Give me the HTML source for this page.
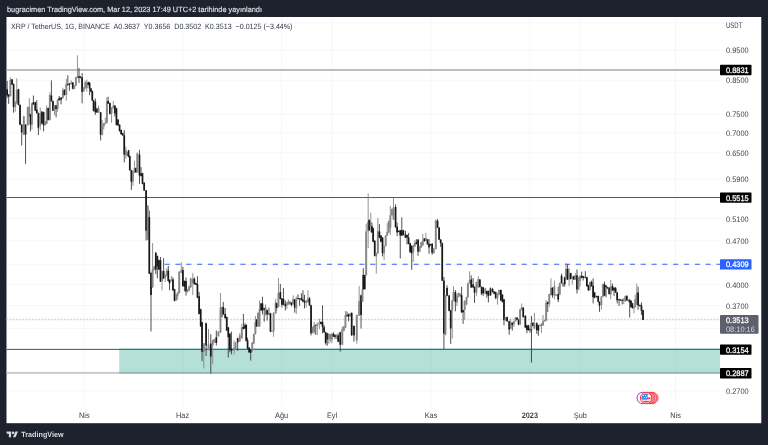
<!DOCTYPE html>
<html><head><meta charset="utf-8"><title>XRP / TetherUS</title>
<style>
html,body{margin:0;padding:0;background:#1e222d;}
body{width:768px;height:445px;overflow:hidden;}
svg{display:block;font-family:"Liberation Sans",sans-serif;text-rendering:geometricPrecision;}
.ax{font-size:8px;fill:#3a3e4a;}
.tag{font-size:8px;fill:#fff;stroke:#fff;stroke-width:0.28px;}
.tm{font-size:7.9px;fill:#3a3e4a;text-anchor:middle;}
</style></head><body>
<svg width="768" height="445" viewBox="0 0 768 445">
<rect x="0" y="0" width="768" height="445" fill="#1e222d"/>
<rect x="6.5" y="17" width="754.8" height="406.2" fill="#ffffff"/>

<g stroke="#f0f0f1" stroke-width="0.6" fill="none">
<line x1="6.5" y1="22.9" x2="720" y2="22.9"/>
<line x1="6.5" y1="50.0" x2="720" y2="50.0"/>
<line x1="6.5" y1="80.1" x2="720" y2="80.1"/>
<line x1="6.5" y1="114.1" x2="720" y2="114.1"/>
<line x1="6.5" y1="132.8" x2="720" y2="132.8"/>
<line x1="6.5" y1="152.8" x2="720" y2="152.8"/>
<line x1="6.5" y1="179.1" x2="720" y2="179.1"/>
<line x1="6.5" y1="198.1" x2="720" y2="198.1"/>
<line x1="6.5" y1="218.6" x2="720" y2="218.6"/>
<line x1="6.5" y1="240.7" x2="720" y2="240.7"/>
<line x1="6.5" y1="264.8" x2="720" y2="264.8"/>
<line x1="6.5" y1="284.4" x2="720" y2="284.4"/>
<line x1="6.5" y1="305.5" x2="720" y2="305.5"/>
<line x1="6.5" y1="328.5" x2="720" y2="328.5"/>
<line x1="6.5" y1="349.2" x2="720" y2="349.2"/>
<line x1="6.5" y1="371.6" x2="720" y2="371.6"/>
<line x1="6.5" y1="390.9" x2="720" y2="390.9"/>
<line x1="84.3" y1="17" x2="84.3" y2="406"/>
<line x1="182.6" y1="17" x2="182.6" y2="406"/>
<line x1="281.6" y1="17" x2="281.6" y2="406"/>
<line x1="332" y1="17" x2="332" y2="406"/>
<line x1="431" y1="17" x2="431" y2="406"/>
<line x1="529.8" y1="17" x2="529.8" y2="406"/>
<line x1="580.3" y1="17" x2="580.3" y2="406"/>
<line x1="675.5" y1="17" x2="675.5" y2="406"/>
</g>
<line x1="6.5" y1="70" x2="720" y2="70" stroke="#bdbdbd" stroke-width="2"/>
<line x1="6.5" y1="197.4" x2="720" y2="197.4" stroke="#5c5c5c" stroke-width="1.05"/>
<line x1="6.5" y1="349.4" x2="720" y2="349.4" stroke="#505050" stroke-width="1"/>
<line x1="6.5" y1="373.0" x2="720" y2="373.0" stroke="#bcbcbc" stroke-width="1.5"/>
<rect x="119.2" y="348.2" width="600.8" height="25.5" fill="rgba(8,153,129,0.3)"/>
<line x1="164.6" y1="264.2" x2="720" y2="264.2" stroke="#2962ff" stroke-width="1.1" stroke-dasharray="5.1 5.72"/>
<line x1="6.5" y1="319.6" x2="720" y2="319.6" stroke="#d6d7da" stroke-width="1.5" stroke-dasharray="1.9 1.3"/>
<g stroke-width="0.85"><line x1="7.12" y1="80.9" x2="7.12" y2="98.1" stroke="#303034"/><line x1="8.69" y1="94.0" x2="8.69" y2="103.9" stroke="#303034"/><line x1="10.35" y1="77.3" x2="10.35" y2="96.6" stroke="#808080"/><line x1="12.02" y1="78.9" x2="12.02" y2="85.1" stroke="#303034"/><line x1="13.58" y1="83.5" x2="13.58" y2="112.7" stroke="#303034"/><line x1="15.25" y1="101.2" x2="15.25" y2="111.7" stroke="#808080"/><line x1="16.81" y1="78.3" x2="16.81" y2="103.9" stroke="#808080"/><line x1="18.48" y1="88.8" x2="18.48" y2="105.4" stroke="#303034"/><line x1="20.04" y1="104.4" x2="20.04" y2="125.2" stroke="#303034"/><line x1="21.71" y1="124.2" x2="21.71" y2="145.5" stroke="#303034"/><line x1="23.79" y1="115.8" x2="23.79" y2="135.1" stroke="#808080"/><line x1="25.56" y1="124.2" x2="25.56" y2="163.8" stroke="#303034"/><line x1="27.75" y1="106.5" x2="27.75" y2="125.7" stroke="#808080"/><line x1="29.31" y1="98.1" x2="29.31" y2="116.9" stroke="#808080"/><line x1="30.46" y1="113.8" x2="30.46" y2="131.4" stroke="#303034"/><line x1="31.92" y1="102.8" x2="31.92" y2="129.3" stroke="#808080"/><line x1="33.38" y1="95.5" x2="33.38" y2="104.9" stroke="#303034"/><line x1="35.25" y1="101.8" x2="35.25" y2="111.1" stroke="#303034"/><line x1="36.81" y1="100.2" x2="36.81" y2="113.8" stroke="#303034"/><line x1="38.38" y1="112.7" x2="38.38" y2="135.0" stroke="#303034"/><line x1="40.25" y1="107.5" x2="40.25" y2="130.3" stroke="#808080"/><line x1="41.92" y1="111.1" x2="41.92" y2="124.2" stroke="#303034"/><line x1="43.58" y1="111.7" x2="43.58" y2="131.4" stroke="#303034"/><line x1="45.15" y1="121.0" x2="45.15" y2="125.7" stroke="#808080"/><line x1="46.71" y1="105.4" x2="46.71" y2="124.2" stroke="#808080"/><line x1="48.27" y1="107.5" x2="48.27" y2="120.5" stroke="#303034"/><line x1="49.83" y1="92.4" x2="49.83" y2="120.5" stroke="#808080"/><line x1="51.40" y1="80.4" x2="51.40" y2="101.8" stroke="#303034"/><line x1="52.96" y1="100.7" x2="52.96" y2="111.1" stroke="#303034"/><line x1="54.52" y1="104.9" x2="54.52" y2="115.2" stroke="#808080"/><line x1="56.08" y1="104.9" x2="56.08" y2="117.3" stroke="#303034"/><line x1="57.65" y1="99.2" x2="57.65" y2="111.7" stroke="#808080"/><line x1="59.21" y1="96.0" x2="59.21" y2="100.7" stroke="#303034"/><line x1="61.08" y1="97.1" x2="61.08" y2="104.4" stroke="#303034"/><line x1="62.85" y1="87.7" x2="62.85" y2="98.6" stroke="#808080"/><line x1="64.42" y1="89.3" x2="64.42" y2="95.5" stroke="#303034"/><line x1="66.29" y1="78.9" x2="66.29" y2="100.7" stroke="#808080"/><line x1="67.85" y1="75.2" x2="67.85" y2="85.6" stroke="#303034"/><line x1="69.42" y1="83.0" x2="69.42" y2="90.8" stroke="#303034"/><line x1="71.19" y1="80.4" x2="71.19" y2="84.6" stroke="#808080"/><line x1="72.75" y1="82.0" x2="72.75" y2="89.3" stroke="#303034"/><line x1="74.31" y1="85.1" x2="74.31" y2="89.3" stroke="#808080"/><line x1="75.88" y1="76.8" x2="75.88" y2="86.1" stroke="#808080"/><line x1="77.44" y1="55.3" x2="77.44" y2="78.3" stroke="#808080"/><line x1="79.00" y1="67.9" x2="79.00" y2="83.0" stroke="#303034"/><line x1="80.56" y1="76.2" x2="80.56" y2="78.3" stroke="#303034"/><line x1="82.12" y1="73.1" x2="82.12" y2="103.3" stroke="#303034"/><line x1="83.69" y1="87.2" x2="83.69" y2="91.9" stroke="#808080"/><line x1="85.21" y1="80.7" x2="85.21" y2="89.0" stroke="#808080"/><line x1="86.77" y1="79.6" x2="86.77" y2="91.6" stroke="#808080"/><line x1="88.33" y1="81.7" x2="88.33" y2="85.4" stroke="#303034"/><line x1="89.58" y1="82.2" x2="89.58" y2="95.2" stroke="#303034"/><line x1="90.94" y1="88.0" x2="90.94" y2="92.1" stroke="#303034"/><line x1="92.29" y1="90.6" x2="92.29" y2="101.0" stroke="#303034"/><line x1="93.54" y1="99.9" x2="93.54" y2="111.4" stroke="#303034"/><line x1="95.31" y1="98.4" x2="95.31" y2="114.9" stroke="#303034"/><line x1="96.98" y1="107.8" x2="96.98" y2="113.0" stroke="#303034"/><line x1="98.54" y1="105.6" x2="98.54" y2="113.0" stroke="#808080"/><line x1="100.62" y1="111.9" x2="100.62" y2="140.5" stroke="#303034"/><line x1="102.19" y1="120.1" x2="102.19" y2="135.4" stroke="#808080"/><line x1="103.75" y1="122.9" x2="103.75" y2="129.5" stroke="#808080"/><line x1="105.31" y1="117.5" x2="105.31" y2="124.4" stroke="#808080"/><line x1="106.88" y1="97.3" x2="106.88" y2="123.4" stroke="#808080"/><line x1="108.12" y1="96.8" x2="108.12" y2="104.1" stroke="#303034"/><line x1="109.90" y1="102.5" x2="109.90" y2="114.5" stroke="#303034"/><line x1="111.56" y1="107.2" x2="111.56" y2="122.8" stroke="#808080"/><line x1="113.33" y1="101.0" x2="113.33" y2="108.8" stroke="#808080"/><line x1="114.90" y1="105.1" x2="114.90" y2="116.5" stroke="#303034"/><line x1="116.46" y1="107.8" x2="116.46" y2="125.5" stroke="#303034"/><line x1="118.02" y1="119.2" x2="118.02" y2="126.0" stroke="#303034"/><line x1="119.58" y1="124.4" x2="119.58" y2="131.7" stroke="#303034"/><line x1="121.15" y1="129.6" x2="121.15" y2="134.8" stroke="#303034"/><line x1="122.71" y1="132.8" x2="122.71" y2="135.9" stroke="#303034"/><line x1="124.27" y1="130.1" x2="124.27" y2="162.4" stroke="#303034"/><line x1="125.83" y1="146.8" x2="125.83" y2="158.8" stroke="#808080"/><line x1="127.19" y1="152.0" x2="127.19" y2="156.1" stroke="#808080"/><line x1="128.54" y1="149.9" x2="128.54" y2="157.2" stroke="#303034"/><line x1="129.79" y1="155.6" x2="129.79" y2="170.7" stroke="#303034"/><line x1="131.35" y1="169.7" x2="131.35" y2="190.0" stroke="#303034"/><line x1="132.92" y1="170.7" x2="132.92" y2="185.8" stroke="#808080"/><line x1="134.48" y1="160.8" x2="134.48" y2="172.8" stroke="#808080"/><line x1="135.83" y1="167.6" x2="135.83" y2="172.8" stroke="#303034"/><line x1="137.29" y1="152.5" x2="137.29" y2="172.8" stroke="#808080"/><line x1="139.48" y1="149.9" x2="139.48" y2="183.8" stroke="#303034"/><line x1="141.04" y1="167.1" x2="141.04" y2="176.5" stroke="#303034"/><line x1="142.50" y1="172.8" x2="142.50" y2="184.3" stroke="#303034"/><line x1="144.17" y1="182.2" x2="144.17" y2="191.0" stroke="#303034"/><line x1="146.10" y1="190.0" x2="146.10" y2="240.5" stroke="#303034"/><line x1="147.70" y1="205.0" x2="147.70" y2="240.0" stroke="#808080"/><line x1="149.30" y1="210.6" x2="149.30" y2="274.0" stroke="#303034"/><line x1="151.00" y1="272.0" x2="151.00" y2="331.4" stroke="#303034"/><line x1="152.60" y1="243.0" x2="152.60" y2="288.0" stroke="#808080"/><line x1="154.23" y1="265.9" x2="154.23" y2="270.6" stroke="#808080"/><line x1="155.79" y1="251.8" x2="155.79" y2="274.2" stroke="#303034"/><line x1="157.35" y1="255.5" x2="157.35" y2="278.4" stroke="#303034"/><line x1="158.92" y1="259.6" x2="158.92" y2="270.1" stroke="#303034"/><line x1="160.48" y1="257.0" x2="160.48" y2="282.0" stroke="#303034"/><line x1="162.04" y1="270.6" x2="162.04" y2="290.4" stroke="#808080"/><line x1="163.60" y1="258.1" x2="163.60" y2="278.9" stroke="#303034"/><line x1="165.17" y1="274.2" x2="165.17" y2="282.0" stroke="#808080"/><line x1="166.73" y1="268.0" x2="166.73" y2="276.3" stroke="#808080"/><line x1="168.29" y1="265.9" x2="168.29" y2="281.5" stroke="#303034"/><line x1="169.54" y1="279.4" x2="169.54" y2="290.4" stroke="#303034"/><line x1="171.42" y1="275.8" x2="171.42" y2="281.5" stroke="#808080"/><line x1="172.98" y1="277.4" x2="172.98" y2="290.9" stroke="#303034"/><line x1="174.54" y1="288.8" x2="174.54" y2="301.3" stroke="#303034"/><line x1="176.10" y1="294.0" x2="176.10" y2="301.2" stroke="#808080"/><line x1="177.67" y1="291.9" x2="177.67" y2="299.8" stroke="#808080"/><line x1="179.23" y1="271.1" x2="179.23" y2="293.5" stroke="#808080"/><line x1="181.31" y1="262.2" x2="181.31" y2="273.2" stroke="#808080"/><line x1="182.88" y1="266.9" x2="182.88" y2="286.7" stroke="#303034"/><line x1="184.44" y1="280.5" x2="184.44" y2="291.4" stroke="#303034"/><line x1="186.00" y1="277.4" x2="186.00" y2="295.6" stroke="#303034"/><line x1="187.56" y1="288.8" x2="187.56" y2="292.5" stroke="#808080"/><line x1="189.12" y1="285.7" x2="189.12" y2="290.9" stroke="#808080"/><line x1="190.69" y1="277.9" x2="190.69" y2="287.8" stroke="#808080"/><line x1="192.77" y1="273.2" x2="192.77" y2="295.1" stroke="#808080"/><line x1="194.33" y1="277.4" x2="194.33" y2="284.6" stroke="#303034"/><line x1="195.90" y1="282.6" x2="195.90" y2="285.2" stroke="#303034"/><line x1="197.46" y1="276.3" x2="197.46" y2="298.2" stroke="#303034"/><line x1="199.12" y1="292.0" x2="199.12" y2="314.4" stroke="#303034"/><line x1="200.69" y1="308.7" x2="200.69" y2="326.9" stroke="#303034"/><line x1="202.04" y1="321.7" x2="202.04" y2="361.2" stroke="#303034"/><line x1="203.81" y1="343.0" x2="203.81" y2="368.5" stroke="#808080"/><line x1="206.10" y1="322.7" x2="206.10" y2="356.0" stroke="#303034"/><line x1="208.50" y1="329.0" x2="208.50" y2="350.3" stroke="#808080"/><line x1="210.79" y1="334.2" x2="210.79" y2="373.7" stroke="#303034"/><line x1="212.67" y1="339.9" x2="212.67" y2="364.3" stroke="#808080"/><line x1="214.23" y1="338.9" x2="214.23" y2="343.0" stroke="#808080"/><line x1="216.31" y1="330.5" x2="216.31" y2="345.5" stroke="#303034"/><line x1="218.40" y1="331.1" x2="218.40" y2="336.8" stroke="#808080"/><line x1="220.48" y1="293.0" x2="220.48" y2="333.1" stroke="#808080"/><line x1="222.04" y1="306.6" x2="222.04" y2="317.5" stroke="#808080"/><line x1="223.29" y1="301.9" x2="223.29" y2="314.9" stroke="#303034"/><line x1="225.17" y1="308.1" x2="225.17" y2="318.6" stroke="#303034"/><line x1="226.73" y1="316.5" x2="226.73" y2="331.1" stroke="#303034"/><line x1="228.29" y1="326.9" x2="228.29" y2="357.5" stroke="#303034"/><line x1="229.85" y1="333.1" x2="229.85" y2="352.3" stroke="#303034"/><line x1="231.42" y1="331.6" x2="231.42" y2="354.4" stroke="#303034"/><line x1="234.02" y1="340.3" x2="234.02" y2="354.4" stroke="#808080"/><line x1="235.58" y1="342.0" x2="235.58" y2="349.3" stroke="#808080"/><line x1="237.67" y1="337.8" x2="237.67" y2="350.8" stroke="#303034"/><line x1="239.75" y1="333.1" x2="239.75" y2="342.0" stroke="#808080"/><line x1="241.83" y1="323.8" x2="241.83" y2="338.9" stroke="#808080"/><line x1="243.40" y1="313.9" x2="243.40" y2="329.5" stroke="#303034"/><line x1="244.96" y1="323.2" x2="244.96" y2="329.0" stroke="#303034"/><line x1="246.21" y1="324.3" x2="246.21" y2="341.5" stroke="#303034"/><line x1="247.56" y1="337.7" x2="247.56" y2="349.3" stroke="#303034"/><line x1="249.12" y1="347.2" x2="249.12" y2="352.9" stroke="#303034"/><line x1="250.69" y1="349.3" x2="250.69" y2="360.6" stroke="#303034"/><line x1="252.25" y1="342.0" x2="252.25" y2="351.8" stroke="#808080"/><line x1="253.81" y1="333.7" x2="253.81" y2="344.1" stroke="#808080"/><line x1="255.38" y1="316.0" x2="255.38" y2="334.7" stroke="#808080"/><line x1="256.62" y1="319.1" x2="256.62" y2="326.9" stroke="#303034"/><line x1="257.98" y1="312.3" x2="257.98" y2="326.9" stroke="#808080"/><line x1="259.54" y1="300.3" x2="259.54" y2="326.9" stroke="#808080"/><line x1="261.10" y1="302.9" x2="261.10" y2="310.8" stroke="#303034"/><line x1="262.46" y1="296.7" x2="262.46" y2="314.4" stroke="#303034"/><line x1="264.23" y1="307.6" x2="264.23" y2="321.7" stroke="#303034"/><line x1="265.58" y1="304.5" x2="265.58" y2="315.4" stroke="#808080"/><line x1="267.15" y1="309.7" x2="267.15" y2="320.6" stroke="#303034"/><line x1="268.92" y1="307.6" x2="268.92" y2="314.9" stroke="#303034"/><line x1="270.48" y1="312.8" x2="270.48" y2="332.1" stroke="#303034"/><line x1="272.04" y1="330.5" x2="272.04" y2="332.1" stroke="#808080"/><line x1="273.60" y1="312.3" x2="273.60" y2="336.8" stroke="#808080"/><line x1="275.69" y1="298.8" x2="275.69" y2="313.9" stroke="#808080"/><line x1="276.69" y1="302.7" x2="276.69" y2="310.5" stroke="#303034"/><line x1="278.46" y1="278.0" x2="278.46" y2="307.4" stroke="#808080"/><line x1="280.33" y1="283.9" x2="280.33" y2="299.5" stroke="#303034"/><line x1="281.90" y1="298.0" x2="281.90" y2="307.4" stroke="#303034"/><line x1="283.46" y1="288.1" x2="283.46" y2="305.3" stroke="#303034"/><line x1="285.33" y1="300.6" x2="285.33" y2="310.5" stroke="#303034"/><line x1="286.90" y1="302.1" x2="286.90" y2="308.9" stroke="#808080"/><line x1="288.46" y1="299.5" x2="288.46" y2="304.8" stroke="#808080"/><line x1="289.92" y1="301.1" x2="289.92" y2="304.8" stroke="#808080"/><line x1="291.48" y1="302.1" x2="291.48" y2="306.3" stroke="#303034"/><line x1="293.15" y1="295.4" x2="293.15" y2="304.8" stroke="#808080"/><line x1="294.71" y1="299.0" x2="294.71" y2="312.6" stroke="#303034"/><line x1="296.27" y1="296.4" x2="296.27" y2="314.1" stroke="#808080"/><line x1="298.04" y1="294.3" x2="298.04" y2="299.5" stroke="#303034"/><line x1="299.60" y1="298.0" x2="299.60" y2="305.8" stroke="#303034"/><line x1="301.38" y1="293.3" x2="301.38" y2="300.6" stroke="#303034"/><line x1="302.94" y1="290.2" x2="302.94" y2="302.1" stroke="#303034"/><line x1="304.50" y1="294.9" x2="304.50" y2="308.4" stroke="#303034"/><line x1="306.17" y1="300.1" x2="306.17" y2="307.4" stroke="#808080"/><line x1="307.94" y1="290.2" x2="307.94" y2="302.7" stroke="#808080"/><line x1="309.50" y1="296.9" x2="309.50" y2="305.8" stroke="#303034"/><line x1="311.06" y1="304.8" x2="311.06" y2="335.4" stroke="#303034"/><line x1="312.62" y1="326.6" x2="312.62" y2="333.4" stroke="#808080"/><line x1="314.19" y1="321.9" x2="314.19" y2="333.8" stroke="#808080"/><line x1="315.75" y1="324.5" x2="315.75" y2="334.9" stroke="#303034"/><line x1="317.31" y1="322.5" x2="317.31" y2="334.9" stroke="#808080"/><line x1="319.40" y1="318.8" x2="319.40" y2="329.2" stroke="#808080"/><line x1="320.96" y1="321.4" x2="320.96" y2="324.5" stroke="#303034"/><line x1="322.52" y1="305.3" x2="322.52" y2="333.3" stroke="#303034"/><line x1="324.08" y1="325.1" x2="324.08" y2="332.9" stroke="#303034"/><line x1="325.65" y1="331.8" x2="325.65" y2="344.8" stroke="#303034"/><line x1="327.21" y1="332.9" x2="327.21" y2="345.8" stroke="#303034"/><line x1="328.77" y1="333.4" x2="328.77" y2="343.7" stroke="#808080"/><line x1="330.33" y1="333.9" x2="330.33" y2="342.1" stroke="#808080"/><line x1="331.90" y1="333.4" x2="331.90" y2="343.2" stroke="#808080"/><line x1="333.46" y1="332.2" x2="333.46" y2="337.0" stroke="#303034"/><line x1="335.02" y1="334.4" x2="335.02" y2="339.0" stroke="#303034"/><line x1="336.58" y1="334.4" x2="336.58" y2="339.0" stroke="#808080"/><line x1="338.15" y1="333.3" x2="338.15" y2="342.2" stroke="#303034"/><line x1="340.23" y1="331.8" x2="340.23" y2="351.5" stroke="#303034"/><line x1="342.31" y1="326.6" x2="342.31" y2="345.4" stroke="#808080"/><line x1="343.88" y1="326.1" x2="343.88" y2="331.3" stroke="#808080"/><line x1="345.44" y1="311.0" x2="345.44" y2="328.2" stroke="#808080"/><line x1="347.00" y1="311.5" x2="347.00" y2="316.7" stroke="#303034"/><line x1="348.56" y1="313.6" x2="348.56" y2="321.4" stroke="#303034"/><line x1="350.12" y1="313.1" x2="350.12" y2="316.7" stroke="#808080"/><line x1="351.67" y1="312.4" x2="351.67" y2="335.9" stroke="#303034"/><line x1="353.96" y1="325.4" x2="353.96" y2="341.6" stroke="#303034"/><line x1="356.77" y1="314.5" x2="356.77" y2="343.7" stroke="#808080"/><line x1="359.17" y1="286.0" x2="359.17" y2="316.1" stroke="#808080"/><line x1="361.04" y1="294.7" x2="361.04" y2="328.6" stroke="#303034"/><line x1="362.50" y1="288.5" x2="362.50" y2="302.0" stroke="#808080"/><line x1="363.27" y1="268.2" x2="363.27" y2="289.7" stroke="#303034"/><line x1="364.73" y1="274.6" x2="364.73" y2="289.7" stroke="#303034"/><line x1="366.19" y1="223.7" x2="366.19" y2="275.6" stroke="#808080"/><line x1="368.17" y1="193.5" x2="368.17" y2="248.0" stroke="#808080"/><line x1="369.21" y1="219.4" x2="369.21" y2="230.9" stroke="#303034"/><line x1="370.77" y1="212.7" x2="370.77" y2="232.4" stroke="#808080"/><line x1="371.92" y1="223.0" x2="371.92" y2="232.9" stroke="#303034"/><line x1="373.17" y1="227.7" x2="373.17" y2="242.3" stroke="#303034"/><line x1="374.73" y1="240.2" x2="374.73" y2="256.4" stroke="#303034"/><line x1="376.29" y1="252.7" x2="376.29" y2="273.5" stroke="#808080"/><line x1="377.85" y1="217.9" x2="377.85" y2="253.8" stroke="#808080"/><line x1="379.42" y1="224.1" x2="379.42" y2="238.1" stroke="#303034"/><line x1="380.98" y1="235.0" x2="380.98" y2="242.3" stroke="#303034"/><line x1="382.54" y1="237.1" x2="382.54" y2="256.4" stroke="#303034"/><line x1="384.10" y1="245.4" x2="384.10" y2="260.0" stroke="#808080"/><line x1="385.67" y1="235.0" x2="385.67" y2="246.5" stroke="#808080"/><line x1="387.23" y1="223.1" x2="387.23" y2="236.1" stroke="#808080"/><line x1="388.79" y1="220.4" x2="388.79" y2="232.9" stroke="#808080"/><line x1="390.35" y1="206.0" x2="390.35" y2="235.0" stroke="#808080"/><line x1="391.92" y1="208.5" x2="391.92" y2="215.8" stroke="#808080"/><line x1="393.48" y1="198.1" x2="393.48" y2="219.9" stroke="#808080"/><line x1="395.56" y1="204.4" x2="395.56" y2="227.7" stroke="#303034"/><line x1="397.12" y1="222.6" x2="397.12" y2="236.1" stroke="#303034"/><line x1="398.69" y1="230.3" x2="398.69" y2="232.4" stroke="#303034"/><line x1="400.25" y1="229.8" x2="400.25" y2="258.5" stroke="#303034"/><line x1="401.81" y1="217.4" x2="401.81" y2="236.1" stroke="#303034"/><line x1="403.38" y1="229.8" x2="403.38" y2="235.5" stroke="#303034"/><line x1="405.46" y1="230.9" x2="405.46" y2="238.1" stroke="#303034"/><line x1="407.02" y1="234.5" x2="407.02" y2="244.4" stroke="#303034"/><line x1="408.58" y1="232.9" x2="408.58" y2="244.4" stroke="#303034"/><line x1="410.15" y1="242.8" x2="410.15" y2="252.7" stroke="#303034"/><line x1="411.71" y1="245.4" x2="411.71" y2="269.8" stroke="#303034"/><line x1="413.27" y1="244.9" x2="413.27" y2="262.1" stroke="#808080"/><line x1="414.83" y1="240.2" x2="414.83" y2="247.0" stroke="#808080"/><line x1="416.40" y1="239.2" x2="416.40" y2="244.4" stroke="#303034"/><line x1="418.08" y1="239.1" x2="418.08" y2="255.8" stroke="#303034"/><line x1="419.65" y1="245.9" x2="419.65" y2="252.1" stroke="#808080"/><line x1="421.21" y1="241.7" x2="421.21" y2="247.9" stroke="#808080"/><line x1="422.77" y1="233.9" x2="422.77" y2="245.9" stroke="#808080"/><line x1="424.33" y1="238.0" x2="424.33" y2="241.7" stroke="#303034"/><line x1="425.90" y1="232.8" x2="425.90" y2="241.2" stroke="#808080"/><line x1="427.46" y1="239.1" x2="427.46" y2="244.8" stroke="#303034"/><line x1="429.02" y1="239.1" x2="429.02" y2="253.7" stroke="#303034"/><line x1="430.58" y1="243.8" x2="430.58" y2="245.9" stroke="#303034"/><line x1="432.15" y1="243.2" x2="432.15" y2="254.7" stroke="#303034"/><line x1="433.71" y1="247.9" x2="433.71" y2="253.7" stroke="#808080"/><line x1="435.79" y1="219.8" x2="435.79" y2="249.5" stroke="#808080"/><line x1="437.56" y1="218.8" x2="437.56" y2="228.1" stroke="#303034"/><line x1="439.12" y1="227.1" x2="439.12" y2="240.1" stroke="#303034"/><line x1="440.69" y1="239.1" x2="440.69" y2="246.9" stroke="#303034"/><line x1="442.25" y1="242.7" x2="442.25" y2="281.2" stroke="#303034"/><line x1="443.92" y1="277.0" x2="443.92" y2="348.9" stroke="#303034"/><line x1="445.48" y1="295.2" x2="445.48" y2="335.3" stroke="#808080"/><line x1="447.04" y1="285.3" x2="447.04" y2="296.3" stroke="#303034"/><line x1="449.12" y1="294.7" x2="449.12" y2="311.4" stroke="#303034"/><line x1="450.69" y1="309.8" x2="450.69" y2="343.9" stroke="#303034"/><line x1="452.25" y1="299.9" x2="452.25" y2="338.5" stroke="#808080"/><line x1="453.50" y1="286.4" x2="453.50" y2="301.0" stroke="#808080"/><line x1="455.38" y1="290.0" x2="455.38" y2="311.3" stroke="#303034"/><line x1="456.94" y1="293.7" x2="456.94" y2="306.1" stroke="#808080"/><line x1="458.50" y1="292.6" x2="458.50" y2="297.3" stroke="#808080"/><line x1="460.06" y1="293.1" x2="460.06" y2="296.8" stroke="#808080"/><line x1="461.62" y1="286.9" x2="461.62" y2="312.9" stroke="#303034"/><line x1="463.08" y1="309.8" x2="463.08" y2="323.8" stroke="#303034"/><line x1="464.65" y1="300.4" x2="464.65" y2="319.6" stroke="#808080"/><line x1="466.52" y1="296.8" x2="466.52" y2="305.1" stroke="#808080"/><line x1="467.88" y1="282.7" x2="467.88" y2="297.8" stroke="#808080"/><line x1="469.65" y1="271.3" x2="469.65" y2="283.8" stroke="#808080"/><line x1="471.21" y1="275.4" x2="471.21" y2="287.9" stroke="#303034"/><line x1="473.08" y1="278.0" x2="473.08" y2="287.9" stroke="#303034"/><line x1="474.54" y1="286.4" x2="474.54" y2="302.9" stroke="#303034"/><line x1="476.42" y1="281.7" x2="476.42" y2="295.8" stroke="#808080"/><line x1="478.29" y1="276.5" x2="478.29" y2="287.9" stroke="#808080"/><line x1="479.85" y1="279.1" x2="479.85" y2="287.4" stroke="#303034"/><line x1="481.62" y1="286.4" x2="481.62" y2="295.1" stroke="#303034"/><line x1="483.19" y1="286.9" x2="483.19" y2="295.8" stroke="#303034"/><line x1="485.27" y1="287.9" x2="485.27" y2="294.2" stroke="#808080"/><line x1="486.83" y1="290.5" x2="486.83" y2="297.7" stroke="#303034"/><line x1="488.40" y1="290.5" x2="488.40" y2="302.4" stroke="#303034"/><line x1="490.48" y1="287.4" x2="490.48" y2="295.8" stroke="#303034"/><line x1="492.56" y1="287.9" x2="492.56" y2="292.6" stroke="#303034"/><line x1="494.12" y1="291.1" x2="494.12" y2="294.2" stroke="#303034"/><line x1="495.69" y1="291.6" x2="495.69" y2="299.3" stroke="#303034"/><line x1="497.42" y1="293.1" x2="497.42" y2="304.6" stroke="#808080"/><line x1="499.08" y1="289.5" x2="499.08" y2="295.2" stroke="#808080"/><line x1="500.85" y1="289.5" x2="500.85" y2="300.9" stroke="#303034"/><line x1="502.42" y1="294.2" x2="502.42" y2="302.5" stroke="#303034"/><line x1="503.98" y1="298.9" x2="503.98" y2="325.4" stroke="#303034"/><line x1="505.54" y1="317.1" x2="505.54" y2="320.7" stroke="#808080"/><line x1="507.10" y1="316.6" x2="507.10" y2="321.8" stroke="#303034"/><line x1="509.19" y1="320.7" x2="509.19" y2="334.8" stroke="#303034"/><line x1="510.75" y1="318.6" x2="510.75" y2="329.1" stroke="#808080"/><line x1="512.31" y1="322.3" x2="512.31" y2="330.6" stroke="#303034"/><line x1="513.88" y1="320.7" x2="513.88" y2="327.0" stroke="#808080"/><line x1="515.44" y1="317.1" x2="515.44" y2="321.8" stroke="#808080"/><line x1="517.00" y1="317.1" x2="517.00" y2="320.2" stroke="#303034"/><line x1="518.56" y1="319.2" x2="518.56" y2="325.4" stroke="#303034"/><line x1="520.12" y1="308.8" x2="520.12" y2="324.9" stroke="#808080"/><line x1="521.69" y1="303.5" x2="521.69" y2="310.3" stroke="#808080"/><line x1="523.25" y1="307.2" x2="523.25" y2="317.6" stroke="#303034"/><line x1="525.33" y1="315.0" x2="525.33" y2="328.0" stroke="#303034"/><line x1="526.90" y1="324.9" x2="526.90" y2="333.2" stroke="#303034"/><line x1="528.46" y1="324.9" x2="528.46" y2="330.6" stroke="#303034"/><line x1="530.02" y1="328.5" x2="530.02" y2="332.7" stroke="#303034"/><line x1="531.27" y1="322.8" x2="531.27" y2="330.6" stroke="#808080"/><line x1="531.48" y1="316.0" x2="531.48" y2="362.5" stroke="#303034"/><line x1="532.94" y1="322.3" x2="532.94" y2="326.5" stroke="#303034"/><line x1="534.40" y1="312.9" x2="534.40" y2="329.1" stroke="#808080"/><line x1="536.79" y1="322.3" x2="536.79" y2="333.8" stroke="#303034"/><line x1="538.35" y1="324.9" x2="538.35" y2="335.8" stroke="#303034"/><line x1="539.92" y1="324.4" x2="539.92" y2="326.5" stroke="#808080"/><line x1="541.48" y1="323.3" x2="541.48" y2="332.7" stroke="#808080"/><line x1="543.04" y1="315.0" x2="543.04" y2="325.9" stroke="#808080"/><line x1="544.60" y1="319.7" x2="544.60" y2="321.8" stroke="#808080"/><line x1="546.17" y1="299.9" x2="546.17" y2="321.2" stroke="#808080"/><line x1="547.73" y1="301.5" x2="547.73" y2="311.9" stroke="#303034"/><line x1="549.29" y1="293.6" x2="549.29" y2="306.7" stroke="#808080"/><line x1="550.94" y1="278.4" x2="550.94" y2="295.6" stroke="#808080"/><line x1="552.50" y1="287.2" x2="552.50" y2="297.7" stroke="#303034"/><line x1="554.38" y1="280.5" x2="554.38" y2="299.2" stroke="#808080"/><line x1="556.15" y1="294.0" x2="556.15" y2="296.1" stroke="#808080"/><line x1="558.23" y1="286.7" x2="558.23" y2="302.0" stroke="#303034"/><line x1="559.79" y1="282.6" x2="559.79" y2="295.1" stroke="#808080"/><line x1="561.56" y1="273.7" x2="561.56" y2="283.6" stroke="#303034"/><line x1="563.12" y1="282.6" x2="563.12" y2="286.7" stroke="#808080"/><line x1="564.69" y1="276.8" x2="564.69" y2="286.7" stroke="#303034"/><line x1="566.04" y1="263.3" x2="566.04" y2="280.0" stroke="#808080"/><line x1="567.60" y1="264.3" x2="567.60" y2="280.0" stroke="#303034"/><line x1="569.17" y1="268.0" x2="569.17" y2="286.2" stroke="#808080"/><line x1="570.73" y1="272.7" x2="570.73" y2="279.4" stroke="#303034"/><line x1="572.29" y1="275.8" x2="572.29" y2="284.6" stroke="#808080"/><line x1="573.85" y1="275.8" x2="573.85" y2="280.0" stroke="#303034"/><line x1="575.42" y1="273.2" x2="575.42" y2="280.0" stroke="#808080"/><line x1="576.98" y1="269.5" x2="576.98" y2="293.5" stroke="#303034"/><line x1="578.54" y1="276.8" x2="578.54" y2="289.9" stroke="#808080"/><line x1="580.10" y1="275.3" x2="580.10" y2="286.2" stroke="#808080"/><line x1="581.67" y1="271.6" x2="581.67" y2="278.4" stroke="#303034"/><line x1="583.23" y1="275.8" x2="583.23" y2="280.5" stroke="#303034"/><line x1="585.31" y1="271.1" x2="585.31" y2="278.4" stroke="#303034"/><line x1="586.88" y1="276.8" x2="586.88" y2="286.7" stroke="#303034"/><line x1="588.44" y1="284.6" x2="588.44" y2="290.9" stroke="#303034"/><line x1="590.00" y1="281.5" x2="590.00" y2="290.4" stroke="#808080"/><line x1="591.56" y1="280.5" x2="591.56" y2="286.7" stroke="#303034"/><line x1="593.12" y1="278.4" x2="593.12" y2="303.4" stroke="#303034"/><line x1="594.58" y1="292.0" x2="594.58" y2="298.2" stroke="#303034"/><line x1="596.67" y1="295.6" x2="596.67" y2="297.7" stroke="#303034"/><line x1="598.23" y1="295.6" x2="598.23" y2="302.4" stroke="#303034"/><line x1="599.48" y1="301.4" x2="599.48" y2="311.8" stroke="#303034"/><line x1="601.35" y1="296.1" x2="601.35" y2="309.7" stroke="#808080"/><line x1="602.92" y1="283.6" x2="602.92" y2="297.2" stroke="#808080"/><line x1="604.48" y1="281.6" x2="604.48" y2="296.1" stroke="#303034"/><line x1="606.04" y1="285.2" x2="606.04" y2="297.2" stroke="#303034"/><line x1="607.60" y1="286.8" x2="607.60" y2="288.9" stroke="#303034"/><line x1="609.17" y1="287.3" x2="609.17" y2="294.6" stroke="#303034"/><line x1="610.73" y1="280.0" x2="610.73" y2="299.3" stroke="#808080"/><line x1="612.50" y1="283.6" x2="612.50" y2="290.9" stroke="#303034"/><line x1="614.06" y1="287.3" x2="614.06" y2="296.1" stroke="#303034"/><line x1="615.62" y1="286.8" x2="615.62" y2="293.0" stroke="#303034"/><line x1="617.19" y1="292.0" x2="617.19" y2="303.4" stroke="#303034"/><line x1="619.06" y1="298.8" x2="619.06" y2="306.0" stroke="#303034"/><line x1="620.62" y1="298.8" x2="620.62" y2="300.8" stroke="#303034"/><line x1="622.19" y1="299.3" x2="622.19" y2="304.5" stroke="#303034"/><line x1="623.75" y1="298.2" x2="623.75" y2="304.0" stroke="#808080"/><line x1="625.31" y1="295.6" x2="625.31" y2="301.9" stroke="#808080"/><line x1="626.88" y1="295.1" x2="626.88" y2="300.8" stroke="#303034"/><line x1="628.44" y1="299.8" x2="628.44" y2="301.4" stroke="#303034"/><line x1="629.69" y1="298.8" x2="629.69" y2="317.5" stroke="#303034"/><line x1="631.04" y1="300.3" x2="631.04" y2="307.6" stroke="#303034"/><line x1="632.40" y1="302.9" x2="632.40" y2="308.6" stroke="#303034"/><line x1="633.96" y1="306.0" x2="633.96" y2="313.3" stroke="#808080"/><line x1="635.21" y1="295.1" x2="635.21" y2="307.6" stroke="#808080"/><line x1="636.77" y1="283.6" x2="636.77" y2="305.0" stroke="#808080"/><line x1="638.12" y1="286.8" x2="638.12" y2="309.7" stroke="#303034"/><line x1="639.90" y1="304.5" x2="639.90" y2="306.6" stroke="#303034"/><line x1="641.46" y1="302.4" x2="641.46" y2="314.9" stroke="#303034"/><line x1="643.02" y1="309.7" x2="643.02" y2="320.1" stroke="#303034"/></g>
<g><rect x="6.28" y="89.3" width="1.7" height="6.2" fill="#18181b"/><rect x="7.84" y="94.5" width="1.7" height="2.1" fill="#18181b"/><rect x="9.40" y="79.9" width="1.9" height="16.1" fill="#868686"/><rect x="11.17" y="79.4" width="1.7" height="5.2" fill="#18181b"/><rect x="12.73" y="84.1" width="1.7" height="22.9" fill="#18181b"/><rect x="14.30" y="102.3" width="1.9" height="4.7" fill="#868686"/><rect x="15.86" y="89.8" width="1.9" height="13.5" fill="#868686"/><rect x="17.63" y="89.3" width="1.7" height="15.6" fill="#18181b"/><rect x="19.19" y="104.9" width="1.7" height="19.8" fill="#18181b"/><rect x="20.86" y="124.7" width="1.7" height="7.8" fill="#18181b"/><rect x="22.84" y="116.4" width="1.9" height="18.2" fill="#868686"/><rect x="24.71" y="124.7" width="1.7" height="9.9" fill="#18181b"/><rect x="26.80" y="107.0" width="1.9" height="18.2" fill="#868686"/><rect x="28.36" y="107.0" width="1.9" height="9.3" fill="#868686"/><rect x="29.61" y="114.2" width="1.7" height="10.4" fill="#18181b"/><rect x="30.97" y="103.3" width="1.9" height="21.2" fill="#868686"/><rect x="32.52" y="102.3" width="1.7" height="2.1" fill="#18181b"/><rect x="34.40" y="102.3" width="1.7" height="8.3" fill="#18181b"/><rect x="35.96" y="109.6" width="1.7" height="3.5" fill="#18181b"/><rect x="37.52" y="113.1" width="1.7" height="14.6" fill="#18181b"/><rect x="39.30" y="113.1" width="1.9" height="12.5" fill="#868686"/><rect x="41.07" y="111.7" width="1.7" height="11.9" fill="#18181b"/><rect x="42.73" y="112.1" width="1.7" height="13.0" fill="#18181b"/><rect x="44.20" y="121.5" width="1.9" height="3.6" fill="#868686"/><rect x="45.76" y="108.0" width="1.9" height="15.6" fill="#868686"/><rect x="47.42" y="108.0" width="1.7" height="12.0" fill="#18181b"/><rect x="48.88" y="95.0" width="1.9" height="25.0" fill="#868686"/><rect x="50.55" y="95.5" width="1.7" height="5.7" fill="#18181b"/><rect x="52.11" y="101.2" width="1.7" height="9.4" fill="#18181b"/><rect x="53.57" y="105.4" width="1.9" height="5.2" fill="#868686"/><rect x="55.23" y="105.4" width="1.7" height="3.6" fill="#18181b"/><rect x="56.70" y="99.7" width="1.9" height="8.9" fill="#868686"/><rect x="58.36" y="98.1" width="1.7" height="2.1" fill="#18181b"/><rect x="60.23" y="97.6" width="1.7" height="2.1" fill="#18181b"/><rect x="61.90" y="90.3" width="1.9" height="7.8" fill="#868686"/><rect x="63.57" y="89.8" width="1.7" height="5.2" fill="#18181b"/><rect x="65.34" y="84.1" width="1.9" height="10.9" fill="#868686"/><rect x="67.00" y="84.1" width="1.7" height="1.0" fill="#18181b"/><rect x="68.57" y="83.5" width="1.7" height="1.0" fill="#18181b"/><rect x="70.24" y="82.5" width="1.9" height="1.6" fill="#868686"/><rect x="71.90" y="82.5" width="1.7" height="6.2" fill="#18181b"/><rect x="73.36" y="85.6" width="1.9" height="3.1" fill="#868686"/><rect x="74.92" y="77.3" width="1.9" height="8.3" fill="#868686"/><rect x="76.49" y="76.2" width="1.9" height="1.6" fill="#868686"/><rect x="78.15" y="76.2" width="1.7" height="1.6" fill="#18181b"/><rect x="79.71" y="76.8" width="1.7" height="1.0" fill="#18181b"/><rect x="81.28" y="77.3" width="1.7" height="14.6" fill="#18181b"/><rect x="82.74" y="87.7" width="1.9" height="3.6" fill="#868686"/><rect x="84.26" y="82.2" width="1.9" height="6.2" fill="#868686"/><rect x="85.82" y="82.8" width="1.9" height="5.2" fill="#868686"/><rect x="87.48" y="82.2" width="1.7" height="2.6" fill="#18181b"/><rect x="88.73" y="82.8" width="1.7" height="5.7" fill="#18181b"/><rect x="90.09" y="88.5" width="1.7" height="3.1" fill="#18181b"/><rect x="91.44" y="91.1" width="1.7" height="9.4" fill="#18181b"/><rect x="92.69" y="100.5" width="1.7" height="10.3" fill="#18181b"/><rect x="94.46" y="101.5" width="1.7" height="10.8" fill="#18181b"/><rect x="96.13" y="108.7" width="1.7" height="3.6" fill="#18181b"/><rect x="97.59" y="108.2" width="1.9" height="4.2" fill="#868686"/><rect x="99.78" y="112.3" width="1.7" height="22.4" fill="#18181b"/><rect x="101.24" y="125.9" width="1.9" height="8.9" fill="#868686"/><rect x="102.80" y="123.3" width="1.9" height="3.1" fill="#868686"/><rect x="104.36" y="122.8" width="1.9" height="1.0" fill="#868686"/><rect x="105.92" y="101.5" width="1.9" height="21.2" fill="#868686"/><rect x="107.28" y="101.0" width="1.7" height="2.6" fill="#18181b"/><rect x="109.05" y="103.1" width="1.7" height="10.8" fill="#18181b"/><rect x="110.61" y="107.6" width="1.9" height="5.7" fill="#868686"/><rect x="112.38" y="105.6" width="1.9" height="2.6" fill="#868686"/><rect x="114.05" y="105.6" width="1.7" height="7.8" fill="#18181b"/><rect x="115.61" y="108.2" width="1.7" height="16.7" fill="#18181b"/><rect x="117.17" y="119.6" width="1.7" height="5.7" fill="#18181b"/><rect x="118.73" y="124.8" width="1.7" height="6.2" fill="#18181b"/><rect x="120.30" y="130.0" width="1.7" height="4.2" fill="#18181b"/><rect x="121.86" y="133.2" width="1.7" height="2.1" fill="#18181b"/><rect x="123.42" y="135.2" width="1.7" height="19.4" fill="#18181b"/><rect x="124.88" y="150.4" width="1.9" height="4.7" fill="#868686"/><rect x="126.24" y="152.5" width="1.9" height="3.1" fill="#868686"/><rect x="127.69" y="150.4" width="1.7" height="6.2" fill="#18181b"/><rect x="128.94" y="156.1" width="1.7" height="14.1" fill="#18181b"/><rect x="130.50" y="170.2" width="1.7" height="11.5" fill="#18181b"/><rect x="131.97" y="171.2" width="1.9" height="10.4" fill="#868686"/><rect x="133.53" y="168.1" width="1.9" height="4.2" fill="#868686"/><rect x="134.98" y="168.1" width="1.7" height="4.2" fill="#18181b"/><rect x="136.34" y="153.5" width="1.9" height="18.8" fill="#868686"/><rect x="138.63" y="154.6" width="1.7" height="20.8" fill="#18181b"/><rect x="140.19" y="173.3" width="1.7" height="2.6" fill="#18181b"/><rect x="141.65" y="173.3" width="1.7" height="10.4" fill="#18181b"/><rect x="143.32" y="182.7" width="1.7" height="7.7" fill="#18181b"/><rect x="145.25" y="190.4" width="1.7" height="40.3" fill="#18181b"/><rect x="146.75" y="206.0" width="1.9" height="33.5" fill="#868686"/><rect x="148.45" y="217.0" width="1.7" height="56.7" fill="#18181b"/><rect x="150.15" y="273.0" width="1.7" height="22.0" fill="#18181b"/><rect x="151.65" y="269.5" width="1.9" height="17.5" fill="#868686"/><rect x="153.28" y="266.4" width="1.9" height="3.6" fill="#868686"/><rect x="154.94" y="252.9" width="1.7" height="16.7" fill="#18181b"/><rect x="156.50" y="256.0" width="1.7" height="10.4" fill="#18181b"/><rect x="158.07" y="260.2" width="1.7" height="9.4" fill="#18181b"/><rect x="159.63" y="260.2" width="1.7" height="21.4" fill="#18181b"/><rect x="161.09" y="271.1" width="1.9" height="9.9" fill="#868686"/><rect x="162.75" y="271.1" width="1.7" height="7.3" fill="#18181b"/><rect x="164.22" y="274.8" width="1.9" height="3.1" fill="#868686"/><rect x="165.78" y="270.6" width="1.9" height="5.2" fill="#868686"/><rect x="167.44" y="270.6" width="1.7" height="10.4" fill="#18181b"/><rect x="168.69" y="280.0" width="1.7" height="3.1" fill="#18181b"/><rect x="170.47" y="278.9" width="1.9" height="2.1" fill="#868686"/><rect x="172.13" y="279.4" width="1.7" height="10.9" fill="#18181b"/><rect x="173.69" y="289.3" width="1.7" height="11.5" fill="#18181b"/><rect x="175.15" y="294.5" width="1.9" height="5.7" fill="#868686"/><rect x="176.72" y="292.5" width="1.9" height="3.1" fill="#868686"/><rect x="178.28" y="271.6" width="1.9" height="21.4" fill="#868686"/><rect x="180.36" y="270.1" width="1.9" height="2.6" fill="#868686"/><rect x="182.03" y="270.1" width="1.7" height="16.1" fill="#18181b"/><rect x="183.59" y="281.0" width="1.7" height="5.7" fill="#18181b"/><rect x="185.15" y="281.0" width="1.7" height="10.4" fill="#18181b"/><rect x="186.61" y="289.3" width="1.9" height="2.6" fill="#868686"/><rect x="188.18" y="286.2" width="1.9" height="4.2" fill="#868686"/><rect x="189.74" y="278.4" width="1.9" height="8.9" fill="#868686"/><rect x="191.82" y="278.4" width="1.9" height="4.7" fill="#868686"/><rect x="193.48" y="278.9" width="1.7" height="5.2" fill="#18181b"/><rect x="195.05" y="283.1" width="1.7" height="1.6" fill="#18181b"/><rect x="196.61" y="284.1" width="1.7" height="13.5" fill="#18181b"/><rect x="198.28" y="296.2" width="1.7" height="17.7" fill="#18181b"/><rect x="199.84" y="309.2" width="1.7" height="17.2" fill="#18181b"/><rect x="201.19" y="322.2" width="1.7" height="29.6" fill="#18181b"/><rect x="202.86" y="343.5" width="1.9" height="8.3" fill="#868686"/><rect x="205.25" y="323.2" width="1.7" height="22.3" fill="#18181b"/><rect x="207.55" y="344.5" width="1.9" height="5.2" fill="#868686"/><rect x="209.94" y="343.5" width="1.7" height="13.0" fill="#18181b"/><rect x="211.72" y="340.3" width="1.9" height="5.2" fill="#868686"/><rect x="213.28" y="339.3" width="1.9" height="3.1" fill="#868686"/><rect x="215.46" y="337.2" width="1.7" height="5.7" fill="#18181b"/><rect x="217.45" y="331.6" width="1.9" height="4.6" fill="#868686"/><rect x="219.53" y="307.6" width="1.9" height="25.0" fill="#868686"/><rect x="221.09" y="307.1" width="1.9" height="9.9" fill="#868686"/><rect x="222.44" y="307.1" width="1.7" height="7.3" fill="#18181b"/><rect x="224.32" y="313.9" width="1.7" height="4.2" fill="#18181b"/><rect x="225.88" y="317.0" width="1.7" height="13.5" fill="#18181b"/><rect x="227.44" y="327.4" width="1.7" height="9.8" fill="#18181b"/><rect x="229.00" y="333.7" width="1.7" height="16.0" fill="#18181b"/><rect x="230.57" y="348.7" width="1.7" height="2.1" fill="#18181b"/><rect x="233.07" y="347.6" width="1.9" height="3.1" fill="#868686"/><rect x="234.63" y="342.4" width="1.9" height="6.2" fill="#868686"/><rect x="236.82" y="338.2" width="1.7" height="4.2" fill="#18181b"/><rect x="238.80" y="335.2" width="1.9" height="6.1" fill="#868686"/><rect x="240.88" y="327.4" width="1.9" height="10.8" fill="#868686"/><rect x="242.55" y="326.9" width="1.7" height="2.1" fill="#18181b"/><rect x="244.11" y="325.3" width="1.7" height="3.1" fill="#18181b"/><rect x="245.36" y="324.8" width="1.7" height="16.0" fill="#18181b"/><rect x="246.71" y="340.3" width="1.7" height="8.3" fill="#18181b"/><rect x="248.28" y="347.6" width="1.7" height="4.7" fill="#18181b"/><rect x="249.84" y="349.7" width="1.7" height="3.1" fill="#18181b"/><rect x="251.30" y="342.4" width="1.9" height="7.3" fill="#868686"/><rect x="252.86" y="334.1" width="1.9" height="9.4" fill="#868686"/><rect x="254.43" y="322.2" width="1.9" height="11.9" fill="#868686"/><rect x="255.78" y="319.6" width="1.7" height="6.8" fill="#18181b"/><rect x="257.03" y="312.8" width="1.9" height="13.5" fill="#868686"/><rect x="258.59" y="309.2" width="1.9" height="17.2" fill="#868686"/><rect x="260.25" y="303.5" width="1.7" height="6.8" fill="#18181b"/><rect x="261.61" y="303.5" width="1.7" height="6.8" fill="#18181b"/><rect x="263.38" y="308.1" width="1.7" height="2.1" fill="#18181b"/><rect x="264.63" y="307.6" width="1.9" height="7.3" fill="#868686"/><rect x="266.30" y="310.2" width="1.7" height="4.2" fill="#18181b"/><rect x="268.07" y="313.8" width="1.7" height="0.6" fill="#18181b"/><rect x="269.63" y="313.4" width="1.7" height="18.2" fill="#18181b"/><rect x="271.09" y="331.0" width="1.9" height="0.6" fill="#868686"/><rect x="272.65" y="312.8" width="1.9" height="18.2" fill="#868686"/><rect x="274.74" y="302.4" width="1.9" height="10.9" fill="#868686"/><rect x="275.84" y="303.2" width="1.7" height="4.7" fill="#18181b"/><rect x="277.51" y="292.8" width="1.9" height="14.1" fill="#868686"/><rect x="279.48" y="292.2" width="1.7" height="6.8" fill="#18181b"/><rect x="281.05" y="298.5" width="1.7" height="6.2" fill="#18181b"/><rect x="282.61" y="299.0" width="1.7" height="5.7" fill="#18181b"/><rect x="284.48" y="304.2" width="1.7" height="2.1" fill="#18181b"/><rect x="285.95" y="302.7" width="1.9" height="2.6" fill="#868686"/><rect x="287.51" y="301.1" width="1.9" height="3.1" fill="#868686"/><rect x="288.97" y="301.6" width="1.9" height="2.6" fill="#868686"/><rect x="290.63" y="302.7" width="1.7" height="2.1" fill="#18181b"/><rect x="292.20" y="299.0" width="1.9" height="5.2" fill="#868686"/><rect x="293.86" y="299.5" width="1.7" height="8.3" fill="#18181b"/><rect x="295.32" y="298.5" width="1.9" height="9.4" fill="#868686"/><rect x="297.19" y="298.0" width="1.7" height="1.0" fill="#18181b"/><rect x="298.75" y="298.5" width="1.7" height="0.6" fill="#18181b"/><rect x="300.52" y="298.0" width="1.7" height="2.1" fill="#18181b"/><rect x="302.09" y="299.5" width="1.7" height="2.1" fill="#18181b"/><rect x="303.65" y="301.1" width="1.7" height="1.6" fill="#18181b"/><rect x="305.22" y="300.6" width="1.9" height="2.1" fill="#868686"/><rect x="306.99" y="298.5" width="1.9" height="3.6" fill="#868686"/><rect x="308.65" y="298.5" width="1.7" height="6.8" fill="#18181b"/><rect x="310.21" y="305.3" width="1.7" height="28.0" fill="#18181b"/><rect x="311.68" y="327.1" width="1.9" height="5.6" fill="#868686"/><rect x="313.24" y="325.1" width="1.9" height="7.0" fill="#868686"/><rect x="314.90" y="325.0" width="1.7" height="0.6" fill="#18181b"/><rect x="316.36" y="324.0" width="1.9" height="1.6" fill="#868686"/><rect x="318.45" y="322.5" width="1.9" height="1.6" fill="#868686"/><rect x="320.11" y="321.9" width="1.7" height="2.1" fill="#18181b"/><rect x="321.67" y="321.9" width="1.7" height="5.2" fill="#18181b"/><rect x="323.23" y="327.1" width="1.7" height="5.1" fill="#18181b"/><rect x="324.80" y="332.2" width="1.7" height="10.9" fill="#18181b"/><rect x="326.36" y="333.3" width="1.7" height="6.2" fill="#18181b"/><rect x="327.82" y="333.8" width="1.9" height="5.2" fill="#868686"/><rect x="329.38" y="334.3" width="1.9" height="5.2" fill="#868686"/><rect x="330.95" y="333.8" width="1.9" height="5.7" fill="#868686"/><rect x="332.61" y="333.8" width="1.7" height="2.6" fill="#18181b"/><rect x="334.17" y="334.9" width="1.7" height="2.1" fill="#18181b"/><rect x="335.63" y="334.9" width="1.9" height="1.6" fill="#868686"/><rect x="337.30" y="335.4" width="1.7" height="6.2" fill="#18181b"/><rect x="339.38" y="332.2" width="1.7" height="12.5" fill="#18181b"/><rect x="341.36" y="329.1" width="1.9" height="15.6" fill="#868686"/><rect x="342.93" y="326.5" width="1.9" height="4.2" fill="#868686"/><rect x="344.49" y="315.2" width="1.9" height="12.5" fill="#868686"/><rect x="346.15" y="315.2" width="1.7" height="1.0" fill="#18181b"/><rect x="347.71" y="314.1" width="1.7" height="2.6" fill="#18181b"/><rect x="349.18" y="313.6" width="1.9" height="2.6" fill="#868686"/><rect x="350.82" y="312.9" width="1.7" height="22.4" fill="#18181b"/><rect x="353.11" y="326.0" width="1.7" height="9.4" fill="#18181b"/><rect x="355.82" y="315.0" width="1.9" height="25.5" fill="#868686"/><rect x="358.22" y="301.1" width="1.9" height="14.5" fill="#868686"/><rect x="360.19" y="295.3" width="1.7" height="19.7" fill="#18181b"/><rect x="361.55" y="289.1" width="1.9" height="12.5" fill="#868686"/><rect x="362.42" y="275.0" width="1.7" height="14.1" fill="#18181b"/><rect x="363.88" y="275.0" width="1.7" height="14.1" fill="#18181b"/><rect x="365.24" y="231.4" width="1.9" height="43.6" fill="#868686"/><rect x="367.22" y="222.0" width="1.9" height="9.4" fill="#868686"/><rect x="368.36" y="220.0" width="1.7" height="10.3" fill="#18181b"/><rect x="369.82" y="222.0" width="1.9" height="4.2" fill="#868686"/><rect x="371.07" y="226.2" width="1.7" height="6.2" fill="#18181b"/><rect x="372.32" y="228.2" width="1.7" height="13.5" fill="#18181b"/><rect x="373.88" y="240.8" width="1.7" height="15.1" fill="#18181b"/><rect x="375.34" y="253.2" width="1.9" height="3.1" fill="#868686"/><rect x="376.90" y="231.4" width="1.9" height="21.9" fill="#868686"/><rect x="378.57" y="231.4" width="1.7" height="6.2" fill="#18181b"/><rect x="380.13" y="235.5" width="1.7" height="6.2" fill="#18181b"/><rect x="381.69" y="237.6" width="1.7" height="15.6" fill="#18181b"/><rect x="383.15" y="246.0" width="1.9" height="7.3" fill="#868686"/><rect x="384.72" y="235.5" width="1.9" height="10.4" fill="#868686"/><rect x="386.28" y="231.9" width="1.9" height="3.6" fill="#868686"/><rect x="387.84" y="221.1" width="1.9" height="11.4" fill="#868686"/><rect x="389.40" y="215.3" width="1.9" height="12.4" fill="#868686"/><rect x="390.97" y="209.1" width="1.9" height="6.2" fill="#868686"/><rect x="392.53" y="207.5" width="1.9" height="12.0" fill="#868686"/><rect x="394.71" y="207.0" width="1.7" height="20.2" fill="#18181b"/><rect x="396.27" y="226.7" width="1.7" height="5.7" fill="#18181b"/><rect x="397.84" y="230.9" width="1.7" height="1.0" fill="#18181b"/><rect x="399.40" y="230.3" width="1.7" height="5.2" fill="#18181b"/><rect x="400.96" y="230.3" width="1.7" height="5.2" fill="#18181b"/><rect x="402.52" y="230.3" width="1.7" height="4.7" fill="#18181b"/><rect x="404.61" y="234.5" width="1.7" height="3.1" fill="#18181b"/><rect x="406.17" y="235.0" width="1.7" height="2.6" fill="#18181b"/><rect x="407.73" y="237.6" width="1.7" height="6.2" fill="#18181b"/><rect x="409.30" y="243.4" width="1.7" height="8.9" fill="#18181b"/><rect x="410.86" y="246.0" width="1.7" height="7.3" fill="#18181b"/><rect x="412.32" y="245.4" width="1.9" height="6.8" fill="#868686"/><rect x="413.88" y="242.8" width="1.9" height="3.6" fill="#868686"/><rect x="415.55" y="242.3" width="1.7" height="1.6" fill="#18181b"/><rect x="417.23" y="239.6" width="1.7" height="12.0" fill="#18181b"/><rect x="418.70" y="246.4" width="1.9" height="5.2" fill="#868686"/><rect x="420.26" y="242.2" width="1.9" height="5.2" fill="#868686"/><rect x="421.82" y="241.2" width="1.9" height="4.2" fill="#868686"/><rect x="423.48" y="238.6" width="1.7" height="2.6" fill="#18181b"/><rect x="424.95" y="238.0" width="1.9" height="2.6" fill="#868686"/><rect x="426.61" y="239.6" width="1.7" height="4.7" fill="#18181b"/><rect x="428.17" y="243.8" width="1.7" height="3.6" fill="#18181b"/><rect x="429.73" y="244.3" width="1.7" height="1.0" fill="#18181b"/><rect x="431.30" y="243.8" width="1.7" height="8.9" fill="#18181b"/><rect x="432.76" y="248.5" width="1.9" height="4.7" fill="#868686"/><rect x="434.84" y="220.3" width="1.9" height="28.6" fill="#868686"/><rect x="436.71" y="220.9" width="1.7" height="6.8" fill="#18181b"/><rect x="438.27" y="227.6" width="1.7" height="12.0" fill="#18181b"/><rect x="439.84" y="239.6" width="1.7" height="3.6" fill="#18181b"/><rect x="441.40" y="243.2" width="1.7" height="37.4" fill="#18181b"/><rect x="443.07" y="280.6" width="1.7" height="53.0" fill="#18181b"/><rect x="444.53" y="295.6" width="1.9" height="39.1" fill="#868686"/><rect x="446.19" y="287.9" width="1.7" height="7.8" fill="#18181b"/><rect x="448.27" y="295.6" width="1.7" height="15.1" fill="#18181b"/><rect x="449.84" y="310.2" width="1.7" height="18.2" fill="#18181b"/><rect x="451.30" y="300.3" width="1.9" height="10.4" fill="#868686"/><rect x="452.55" y="292.1" width="1.9" height="8.2" fill="#868686"/><rect x="454.52" y="292.1" width="1.7" height="9.8" fill="#18181b"/><rect x="455.99" y="296.2" width="1.9" height="6.2" fill="#868686"/><rect x="457.55" y="293.0" width="1.9" height="3.6" fill="#868686"/><rect x="459.11" y="293.7" width="1.9" height="2.6" fill="#868686"/><rect x="460.77" y="295.2" width="1.7" height="17.1" fill="#18181b"/><rect x="462.23" y="310.2" width="1.7" height="2.1" fill="#18181b"/><rect x="463.70" y="300.9" width="1.9" height="8.9" fill="#868686"/><rect x="465.57" y="297.2" width="1.9" height="7.3" fill="#868686"/><rect x="466.93" y="283.2" width="1.9" height="14.0" fill="#868686"/><rect x="468.70" y="280.1" width="1.9" height="3.1" fill="#868686"/><rect x="470.36" y="279.6" width="1.7" height="7.8" fill="#18181b"/><rect x="472.23" y="284.3" width="1.7" height="3.1" fill="#18181b"/><rect x="473.69" y="286.9" width="1.7" height="5.7" fill="#18181b"/><rect x="475.47" y="282.2" width="1.9" height="10.4" fill="#868686"/><rect x="477.34" y="279.1" width="1.9" height="8.3" fill="#868686"/><rect x="479.00" y="279.6" width="1.7" height="7.3" fill="#18181b"/><rect x="480.77" y="286.9" width="1.7" height="6.8" fill="#18181b"/><rect x="482.34" y="287.4" width="1.7" height="5.7" fill="#18181b"/><rect x="484.32" y="288.5" width="1.9" height="5.2" fill="#868686"/><rect x="485.98" y="291.1" width="1.7" height="3.1" fill="#18181b"/><rect x="487.55" y="291.1" width="1.7" height="4.7" fill="#18181b"/><rect x="489.63" y="288.5" width="1.7" height="6.8" fill="#18181b"/><rect x="491.71" y="289.0" width="1.7" height="3.1" fill="#18181b"/><rect x="493.27" y="291.6" width="1.7" height="2.1" fill="#18181b"/><rect x="494.84" y="292.1" width="1.7" height="5.9" fill="#18181b"/><rect x="496.47" y="293.6" width="1.9" height="4.7" fill="#868686"/><rect x="498.13" y="290.0" width="1.9" height="4.7" fill="#868686"/><rect x="500.00" y="290.0" width="1.7" height="10.4" fill="#18181b"/><rect x="501.57" y="294.7" width="1.7" height="7.3" fill="#18181b"/><rect x="503.13" y="299.4" width="1.7" height="20.8" fill="#18181b"/><rect x="504.59" y="317.6" width="1.9" height="2.6" fill="#868686"/><rect x="506.25" y="317.1" width="1.7" height="4.2" fill="#18181b"/><rect x="508.34" y="321.2" width="1.7" height="8.3" fill="#18181b"/><rect x="509.80" y="322.3" width="1.9" height="6.2" fill="#868686"/><rect x="511.46" y="322.8" width="1.7" height="2.1" fill="#18181b"/><rect x="512.92" y="321.2" width="1.9" height="3.1" fill="#868686"/><rect x="514.49" y="317.6" width="1.9" height="3.6" fill="#868686"/><rect x="516.15" y="317.6" width="1.7" height="2.1" fill="#18181b"/><rect x="517.71" y="319.7" width="1.7" height="4.7" fill="#18181b"/><rect x="519.17" y="309.3" width="1.9" height="15.1" fill="#868686"/><rect x="520.74" y="307.2" width="1.9" height="2.6" fill="#868686"/><rect x="522.40" y="307.7" width="1.7" height="9.4" fill="#18181b"/><rect x="524.48" y="316.0" width="1.7" height="11.5" fill="#18181b"/><rect x="526.05" y="325.4" width="1.7" height="4.7" fill="#18181b"/><rect x="527.61" y="325.4" width="1.7" height="4.7" fill="#18181b"/><rect x="529.17" y="329.1" width="1.7" height="1.0" fill="#18181b"/><rect x="530.32" y="323.3" width="1.9" height="6.8" fill="#868686"/><rect x="530.63" y="329.7" width="1.7" height="0.6" fill="#18181b"/><rect x="532.09" y="322.8" width="1.7" height="3.1" fill="#18181b"/><rect x="533.45" y="323.3" width="1.9" height="5.2" fill="#868686"/><rect x="535.94" y="323.3" width="1.7" height="6.8" fill="#18181b"/><rect x="537.50" y="325.4" width="1.7" height="5.2" fill="#18181b"/><rect x="538.97" y="324.9" width="1.9" height="1.0" fill="#868686"/><rect x="540.53" y="323.9" width="1.9" height="2.1" fill="#868686"/><rect x="542.09" y="321.2" width="1.9" height="4.2" fill="#868686"/><rect x="543.65" y="320.2" width="1.9" height="1.0" fill="#868686"/><rect x="545.22" y="303.0" width="1.9" height="17.7" fill="#868686"/><rect x="546.88" y="302.0" width="1.7" height="2.1" fill="#18181b"/><rect x="548.34" y="294.2" width="1.9" height="9.4" fill="#868686"/><rect x="549.99" y="287.8" width="1.9" height="7.3" fill="#868686"/><rect x="551.65" y="287.8" width="1.7" height="7.3" fill="#18181b"/><rect x="553.42" y="286.2" width="1.9" height="9.4" fill="#868686"/><rect x="555.20" y="294.5" width="1.9" height="1.0" fill="#868686"/><rect x="557.38" y="294.0" width="1.7" height="5.7" fill="#18181b"/><rect x="558.84" y="283.1" width="1.9" height="11.5" fill="#868686"/><rect x="560.71" y="275.8" width="1.7" height="7.3" fill="#18181b"/><rect x="562.17" y="283.1" width="1.9" height="3.1" fill="#868686"/><rect x="563.84" y="277.4" width="1.7" height="6.8" fill="#18181b"/><rect x="565.09" y="269.0" width="1.9" height="10.4" fill="#868686"/><rect x="566.75" y="269.0" width="1.7" height="10.4" fill="#18181b"/><rect x="568.22" y="273.2" width="1.9" height="6.2" fill="#868686"/><rect x="569.88" y="273.2" width="1.7" height="5.7" fill="#18181b"/><rect x="571.34" y="276.3" width="1.9" height="2.6" fill="#868686"/><rect x="573.00" y="276.3" width="1.7" height="3.1" fill="#18181b"/><rect x="574.47" y="275.3" width="1.9" height="4.2" fill="#868686"/><rect x="576.13" y="275.3" width="1.7" height="14.1" fill="#18181b"/><rect x="577.59" y="277.4" width="1.9" height="12.0" fill="#868686"/><rect x="579.15" y="275.8" width="1.9" height="5.2" fill="#868686"/><rect x="580.82" y="275.8" width="1.7" height="2.1" fill="#18181b"/><rect x="582.38" y="276.3" width="1.7" height="1.6" fill="#18181b"/><rect x="584.46" y="276.8" width="1.7" height="1.0" fill="#18181b"/><rect x="586.02" y="277.4" width="1.7" height="8.9" fill="#18181b"/><rect x="587.59" y="285.2" width="1.7" height="5.2" fill="#18181b"/><rect x="589.05" y="282.0" width="1.9" height="7.8" fill="#868686"/><rect x="590.71" y="282.0" width="1.7" height="4.2" fill="#18181b"/><rect x="592.27" y="285.7" width="1.7" height="11.5" fill="#18181b"/><rect x="593.73" y="292.5" width="1.7" height="5.2" fill="#18181b"/><rect x="595.82" y="296.1" width="1.7" height="1.0" fill="#18181b"/><rect x="597.38" y="296.1" width="1.7" height="5.7" fill="#18181b"/><rect x="598.63" y="301.9" width="1.7" height="3.6" fill="#18181b"/><rect x="600.40" y="296.7" width="1.9" height="8.3" fill="#868686"/><rect x="601.97" y="284.2" width="1.9" height="12.5" fill="#868686"/><rect x="603.63" y="284.2" width="1.7" height="11.5" fill="#18181b"/><rect x="605.19" y="285.7" width="1.7" height="1.6" fill="#18181b"/><rect x="606.75" y="287.3" width="1.7" height="1.0" fill="#18181b"/><rect x="608.32" y="287.8" width="1.7" height="6.2" fill="#18181b"/><rect x="609.78" y="286.2" width="1.9" height="8.3" fill="#868686"/><rect x="611.65" y="286.2" width="1.7" height="4.2" fill="#18181b"/><rect x="613.21" y="287.8" width="1.7" height="2.6" fill="#18181b"/><rect x="614.77" y="288.3" width="1.7" height="4.2" fill="#18181b"/><rect x="616.34" y="292.5" width="1.7" height="7.8" fill="#18181b"/><rect x="618.21" y="299.3" width="1.7" height="1.0" fill="#18181b"/><rect x="619.77" y="299.8" width="1.7" height="0.6" fill="#18181b"/><rect x="621.34" y="299.8" width="1.7" height="1.0" fill="#18181b"/><rect x="622.80" y="298.8" width="1.9" height="2.1" fill="#868686"/><rect x="624.36" y="296.1" width="1.9" height="5.2" fill="#868686"/><rect x="626.02" y="296.1" width="1.7" height="4.2" fill="#18181b"/><rect x="627.59" y="300.3" width="1.7" height="0.6" fill="#18181b"/><rect x="628.84" y="300.3" width="1.7" height="2.1" fill="#18181b"/><rect x="630.19" y="300.8" width="1.7" height="6.2" fill="#18181b"/><rect x="631.55" y="303.4" width="1.7" height="4.7" fill="#18181b"/><rect x="633.01" y="306.6" width="1.9" height="1.6" fill="#868686"/><rect x="634.26" y="299.3" width="1.9" height="7.8" fill="#868686"/><rect x="635.82" y="292.5" width="1.9" height="12.0" fill="#868686"/><rect x="637.27" y="292.5" width="1.7" height="13.0" fill="#18181b"/><rect x="639.05" y="305.0" width="1.7" height="1.0" fill="#18181b"/><rect x="640.61" y="305.5" width="1.7" height="5.2" fill="#18181b"/><rect x="642.17" y="310.2" width="1.7" height="9.6" fill="#18181b"/></g>
<text class="ax" transform="translate(726,53.1) scale(0.925,1)">0.9500</text>
<text class="ax" transform="translate(726,83.2) scale(0.925,1)">0.8500</text>
<text class="ax" transform="translate(726,117.2) scale(0.925,1)">0.7500</text>
<text class="ax" transform="translate(726,135.9) scale(0.925,1)">0.7000</text>
<text class="ax" transform="translate(726,155.9) scale(0.925,1)">0.6500</text>
<text class="ax" transform="translate(726,182.2) scale(0.925,1)">0.5900</text>
<text class="ax" transform="translate(726,221.7) scale(0.925,1)">0.5100</text>
<text class="ax" transform="translate(726,243.8) scale(0.925,1)">0.4700</text>
<text class="ax" transform="translate(726,287.5) scale(0.925,1)">0.4000</text>
<text class="ax" transform="translate(726,308.6) scale(0.925,1)">0.3700</text>
<text class="ax" transform="translate(726,394.0) scale(0.925,1)">0.2700</text>
<text class="ax" x="726" y="28" textLength="16.3" lengthAdjust="spacingAndGlyphs">USDT</text>
<rect x="720" y="64.8" width="31.5" height="10.4" rx="0.7" fill="#000"/>
<text class="tag" transform="translate(726,72.9) scale(0.925,1)">0.8831</text>
<rect x="720" y="192.4" width="31.5" height="10.4" rx="0.7" fill="#000"/>
<text class="tag" transform="translate(726,200.5) scale(0.925,1)">0.5515</text>
<rect x="720" y="259.2" width="31.5" height="10.4" rx="0.7" fill="#2962ff"/>
<text class="tag" transform="translate(726,267.3) scale(0.925,1)">0.4309</text>
<rect x="720" y="344.4" width="31.5" height="10.4" rx="0.7" fill="#000"/>
<text class="tag" transform="translate(726,352.5) scale(0.925,1)">0.3154</text>
<rect x="720" y="368.0" width="31.5" height="10.4" rx="0.7" fill="#000"/>
<text class="tag" transform="translate(726,376.1) scale(0.925,1)">0.2887</text>
<rect x="720" y="315" width="38.5" height="18.8" rx="1" fill="#5d606b"/>
<text class="tag" transform="translate(726,322.9) scale(0.925,1)">0.3513</text>
<text transform="translate(726,332.3) scale(0.925,1)" font-size="8" fill="#d6d8de">08:10:16</text>
<text class="tm" transform="translate(84.3,417.8) scale(0.93,1)">Nis</text>
<text class="tm" transform="translate(182.6,417.8) scale(0.93,1)">Haz</text>
<text class="tm" transform="translate(281.6,417.8) scale(0.93,1)">Ağu</text>
<text class="tm" transform="translate(332,417.8) scale(0.93,1)">Eyl</text>
<text class="tm" transform="translate(431,417.8) scale(0.93,1)">Kas</text>
<text class="tm" transform="translate(529.8,417.8) scale(0.93,1)" font-weight="bold" fill="#1e222d">2023</text>
<text class="tm" transform="translate(580.3,417.8) scale(0.93,1)">Şub</text>
<text class="tm" transform="translate(675.5,417.8) scale(0.93,1)">Nis</text>
<g>
<circle cx="642.7" cy="398" r="5.7" fill="#fff" stroke="#9c27b0" stroke-width="0.9"/>
<circle cx="652.4" cy="398" r="5.7" fill="#f9c9cd" stroke="#f23645" stroke-width="0.9"/>
<circle cx="650.8" cy="398" r="5.7" fill="#f9c9cd" stroke="#f23645" stroke-width="0.9"/>
<circle cx="649.2" cy="398" r="5.7" fill="#f9c9cd" stroke="#f23645" stroke-width="0.9"/>
<circle cx="647.6" cy="398" r="5.7" fill="#f9c9cd" stroke="#f23645" stroke-width="0.9"/>
<circle cx="646.1" cy="398" r="5.7" fill="#fdeaec" stroke="#f23645" stroke-width="1"/>
<clipPath id="fc"><circle cx="646.1" cy="398" r="4.5"/></clipPath>
<g clip-path="url(#fc)">
<rect x="641" y="393" width="10" height="10" fill="#fff"/>
<rect x="641" y="393" width="10" height="1.5" fill="#f23645"/>
<rect x="641" y="397.5" width="10" height="1.7" fill="#f23645"/>
<rect x="641" y="400.8" width="10" height="2.3" fill="#f23645"/>
<rect x="641" y="394" width="6.6" height="5.6" fill="#3d8bea"/>
<g fill="#fff"><circle cx="643.6" cy="395.6" r="0.5"/><circle cx="645.6" cy="395.6" r="0.5"/><circle cx="644.6" cy="397.4" r="0.5"/><circle cx="646.4" cy="397.6" r="0.5"/></g>
</g></g>
<text x="7" y="12.2" font-size="7.6" fill="#dfe1e6" textLength="255" lengthAdjust="spacingAndGlyphs" stroke="#dfe1e6" stroke-width="0.15">bugracimen TradingView.com, Mar 12, 2023 17:49 UTC+2 tarihinde yayınlandı</text>
<text x="11" y="28.6" font-size="7.6" fill="#343844" textLength="281.5" lengthAdjust="spacingAndGlyphs" xml:space="preserve">XRP / TetherUS, 1G, BINANCE  A0.3637  Y0.3656  D0.3502  K0.3513  −0.0125 (−3.44%)</text>
<g transform="translate(6.6,430.3) scale(0.32)" fill="#d9dbe0">
<path d="M14 22H7V11H0V4h14z"/><circle cx="20" cy="8" r="4"/><path d="M28 22h-8l7.5-18h8z"/></g>
<text x="21.3" y="437.1" font-size="7.5" font-weight="bold" fill="#d9dbe0" textLength="42.3" lengthAdjust="spacingAndGlyphs">TradingView</text>
</svg></body></html>
